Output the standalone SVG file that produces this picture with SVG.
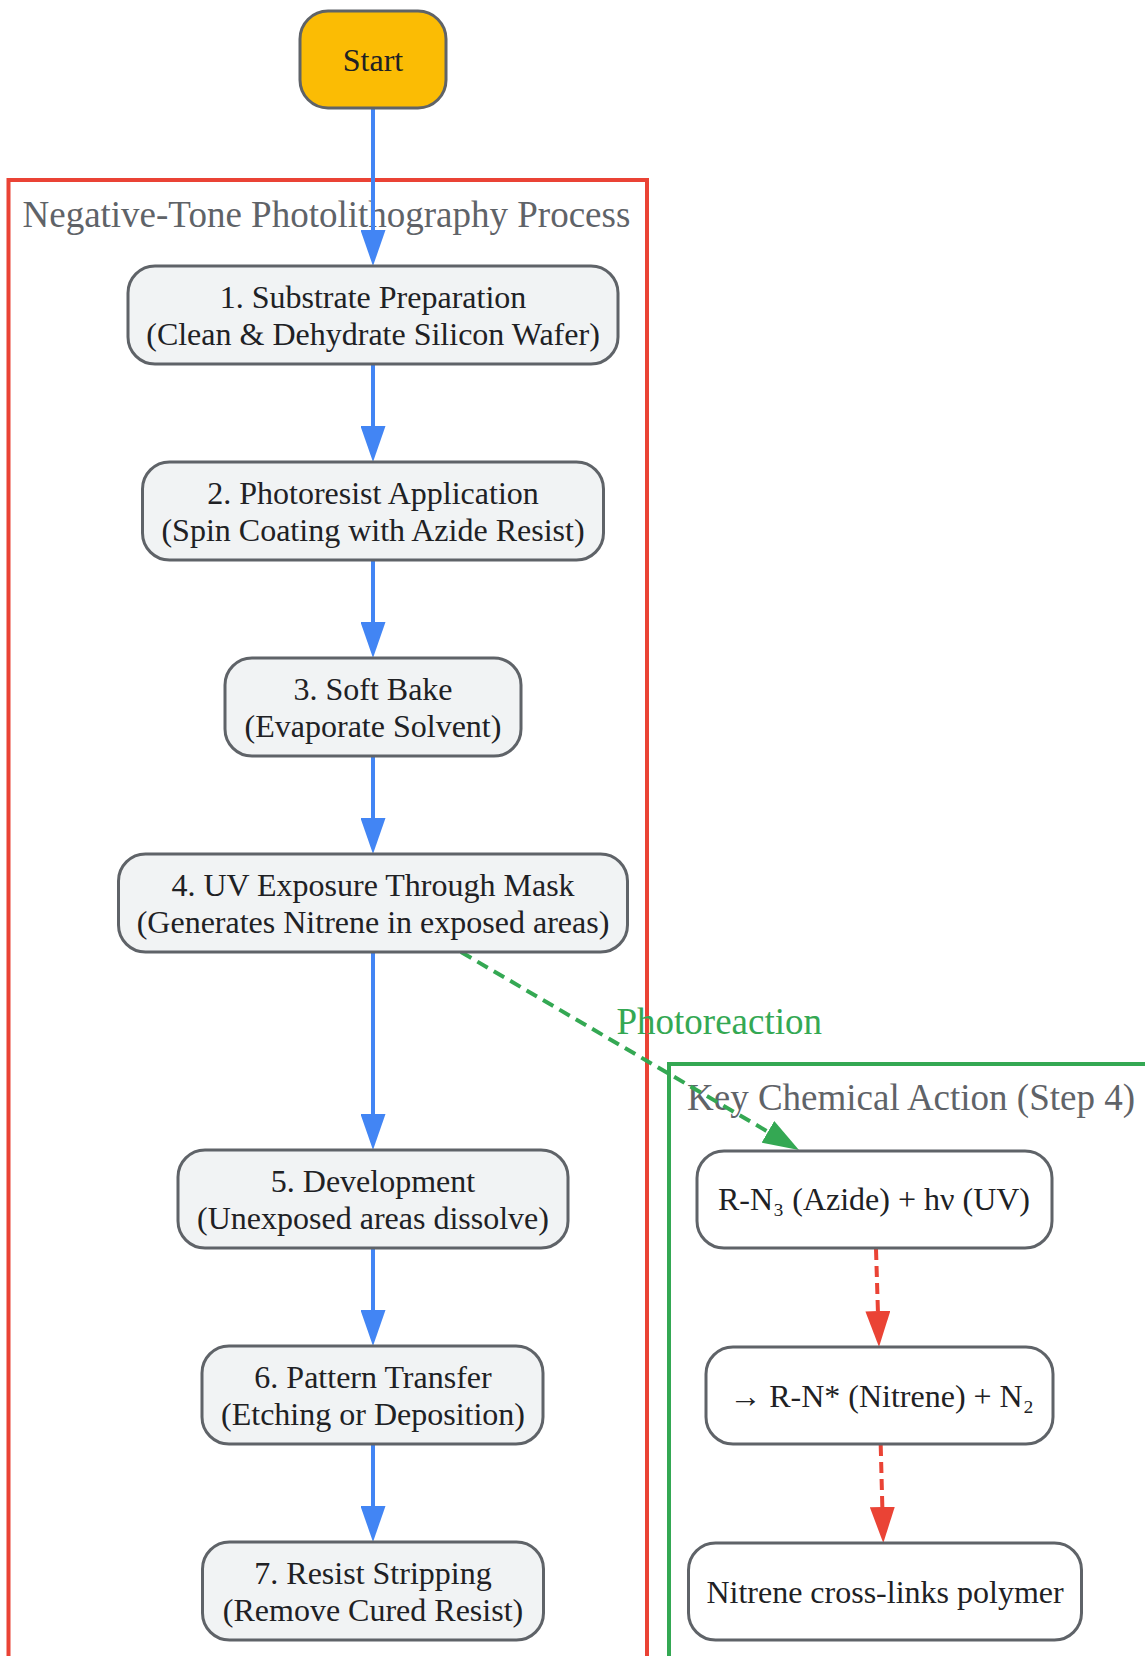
<svg xmlns="http://www.w3.org/2000/svg" width="1145" height="1656" viewBox="0 0 1145 1656">
<style>
.bg{fill:#ffffff}
.node rect{fill:#f1f3f4;stroke:#5f6368;stroke-width:3}
.chem rect{fill:#ffffff;stroke:#5f6368;stroke-width:3}
.start rect{fill:#fbbc04;stroke:#5f6368;stroke-width:3}
.t{font-family:"Liberation Serif","DejaVu Serif",serif;font-size:32px;fill:#202124;text-anchor:middle}
.title{font-family:"Liberation Serif","DejaVu Serif",serif;font-size:37px;fill:#5f6368}
.elabel{font-family:"Liberation Serif","DejaVu Serif",serif;font-size:37px;fill:#34a853}
.flow{stroke:#4285f4;stroke-width:4;fill:none}
.photo{stroke:#34a853;stroke-width:4;fill:none;stroke-dasharray:12 7}
.chain{stroke:#ea4335;stroke-width:4;fill:none;stroke-dasharray:11 6}
</style>
<defs>
<marker id="ab" markerUnits="userSpaceOnUse" markerWidth="36" markerHeight="25" refX="6" refY="12.5" orient="auto"><path d="M0,0 L36,12.5 L0,25 z" fill="#4285f4"/></marker>
<marker id="ag" markerUnits="userSpaceOnUse" markerWidth="36" markerHeight="25" refX="6" refY="12.5" orient="auto"><path d="M0,0 L36,12.5 L0,25 z" fill="#34a853"/></marker>
<marker id="ar" markerUnits="userSpaceOnUse" markerWidth="36" markerHeight="25" refX="6" refY="12.5" orient="auto"><path d="M0,0 L36,12.5 L0,25 z" fill="#ea4335"/></marker>
</defs>
<rect class="bg" x="0" y="0" width="1145" height="1656"/>
<g id="cluster-process">
<rect x="8.5" y="180" width="638.5" height="1600" fill="none" stroke="#ea4335" stroke-width="4"/>
<text class="title" x="22.5" y="226.5">Negative-Tone Photolithography Process</text>
</g>
<g id="cluster-chem">
<rect x="669" y="1064" width="600" height="700" fill="none" stroke="#34a853" stroke-width="4"/>
<text class="title" x="687" y="1110">Key Chemical Action (Step 4)</text>
</g>
<g id="connectors">
<line class="flow" x1="373" y1="108" x2="373" y2="236" marker-end="url(#ab)"/>
<line class="flow" x1="373" y1="364" x2="373" y2="432" marker-end="url(#ab)"/>
<line class="flow" x1="373" y1="560" x2="373" y2="628" marker-end="url(#ab)"/>
<line class="flow" x1="373" y1="756" x2="373" y2="824" marker-end="url(#ab)"/>
<line class="flow" x1="373" y1="952" x2="373" y2="1120" marker-end="url(#ab)"/>
<line class="flow" x1="373" y1="1248" x2="373" y2="1316" marker-end="url(#ab)"/>
<line class="flow" x1="373" y1="1444" x2="373" y2="1512" marker-end="url(#ab)"/>
<line class="photo" x1="461" y1="952" x2="773.1" y2="1134.8" marker-end="url(#ag)"/>
<line class="chain" x1="876" y1="1249" x2="878.1" y2="1317" marker-end="url(#ar)"/>
<line class="chain" x1="880.7" y1="1445" x2="882.5" y2="1513" marker-end="url(#ar)"/>
<text class="elabel" x="616.5" y="1034">Photoreaction</text>
</g>
<g id="start" class="start">
<rect x="300" y="11" width="146" height="97" rx="28"/>
<text class="t" x="373" y="70.5">Start</text>
</g>
<g id="step1" class="node">
<rect x="128" y="266" width="490" height="98" rx="27"/>
<text class="t" x="373" y="307.5">1. Substrate Preparation</text>
<text class="t" x="373" y="344.5">(Clean &amp; Dehydrate Silicon Wafer)</text>
</g>
<g id="step2" class="node">
<rect x="142.5" y="462" width="461" height="98" rx="27"/>
<text class="t" x="373" y="503.5">2. Photoresist Application</text>
<text class="t" x="373" y="540.5">(Spin Coating with Azide Resist)</text>
</g>
<g id="step3" class="node">
<rect x="225" y="658" width="296" height="98" rx="27"/>
<text class="t" x="373" y="699.5">3. Soft Bake</text>
<text class="t" x="373" y="736.5">(Evaporate Solvent)</text>
</g>
<g id="step4" class="node">
<rect x="118.5" y="854" width="509" height="98" rx="27"/>
<text class="t" x="373" y="895.5">4. UV Exposure Through Mask</text>
<text class="t" x="373" y="932.5">(Generates Nitrene in exposed areas)</text>
</g>
<g id="step5" class="node">
<rect x="178" y="1150" width="390" height="98" rx="27"/>
<text class="t" x="373" y="1191.5">5. Development</text>
<text class="t" x="373" y="1228.5">(Unexposed areas dissolve)</text>
</g>
<g id="step6" class="node">
<rect x="202" y="1346" width="341" height="98" rx="27"/>
<text class="t" x="373" y="1387.5">6. Pattern Transfer</text>
<text class="t" x="373" y="1424.5">(Etching or Deposition)</text>
</g>
<g id="step7" class="node">
<rect x="202.5" y="1542" width="341" height="98" rx="27"/>
<text class="t" x="373" y="1583.5">7. Resist Stripping</text>
<text class="t" x="373" y="1620.5">(Remove Cured Resist)</text>
</g>
<g id="azide" class="chem">
<rect x="697" y="1151" width="355" height="97" rx="27"/>
<text class="t" x="874" y="1210">R-N₃ (Azide) + hν (UV)</text>
</g>
<g id="nitrene" class="chem">
<rect x="706" y="1347" width="347" height="97" rx="27"/>
<text class="t" x="881.5" y="1406.5">→ R-N* (Nitrene) + N₂</text>
</g>
<g id="crosslink" class="chem">
<rect x="688.5" y="1543" width="393" height="97" rx="27"/>
<text class="t" x="885" y="1603">Nitrene cross-links polymer</text>
</g>
</svg>
